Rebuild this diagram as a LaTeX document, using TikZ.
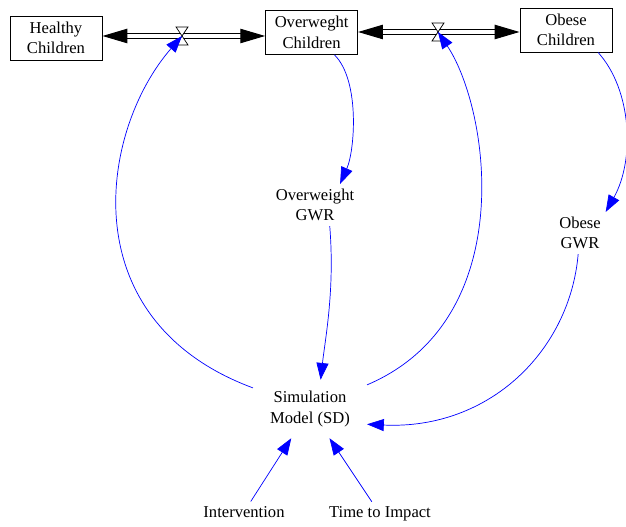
\documentclass[tikz,border=0pt]{standalone}
\usepackage{fontspec}
\setmainfont{Liberation Serif}
\usetikzlibrary{arrows.meta}
\tikzset{
  stock/.style={draw, line width=0.7pt, minimum width=2.3cm, minimum height=1.1cm, align=center, inner sep=1pt},
  aux/.style={align=center},
  pipe/.style={double, double distance=2.6pt, line width=0.7pt, -{Triangle[length=0.62cm,width=0.36cm]}},
  link/.style={blue, line width=0.5pt, -{Triangle[length=0.42cm,width=0.3cm]}},
  valve/.pic={\draw[fill=white, line width=0.5pt] (-0.15,0.225) -- (0.15,0.225) -- (-0.15,-0.225) -- (0.15,-0.225) -- cycle;}
}
\begin{document}
\begin{tikzpicture}[font=\fontsize{11.8}{14.5}\selectfont]
\useasboundingbox (0,0) rectangle (15.65,-13.175);
% stocks
\node[stock] (healthy) at (1.4,-0.95) {Healthy\\Children};
\node[stock] (overw) at (7.79,-0.81) {Overweght\\Children};
\node[stock] (obese) at (14.15,-0.75) {Obese\\Children};
% flows
\coordinate (v1) at (4.55,-0.9);
\coordinate (v2) at (10.95,-0.8);
\draw[pipe] (v1) -- (healthy.east |- v1);
\draw[pipe] (v1) -- (overw.west |- v1);
\draw[pipe] (v2) -- (overw.east |- v2);
\draw[pipe] (v2) -- (obese.west |- v2);
\pic at (v1) {valve};
\pic at (v2) {valve};
% auxiliaries
\node[aux] (owgwr) at (7.875,-5.125) {Overweight\\GWR};
\node[aux] (obgwr) at (14.5,-5.825) {Obese\\GWR};
\node[aux, inner xsep=12pt, inner ysep=8pt] (sim) at (7.75,-10.225) {Simulation\\Model (SD)};
\node (interv) at (6.1,-12.8) {Intervention};
\node (time) at (9.5,-12.85) {Time to Impact};
% links
\draw[link] (sim) .. controls (1.75,-8.0) and (2.5,-3.25) .. (v1);
\draw[link] (sim) .. controls (13.0,-8.0) and (12.25,-2.75) .. (v2);
\draw[link] (overw) .. controls (9.0,-2.0) and (8.875,-3.75) .. (owgwr.40);
\draw[link] (obese.-35) .. controls (15.8,-2.25) and (15.875,-4.0) .. (obgwr.north east);
\draw[link] (owgwr.-55) .. controls (8.375,-7.25) and (8.125,-8.5) .. (sim.70);
\draw[link] (obgwr.-95) .. controls (14.25,-8.75) and (12.25,-10.75) .. (sim.-15);
\draw[link] (interv) -- (sim);
\draw[link] (time) -- (sim);
\end{tikzpicture}
\end{document}
